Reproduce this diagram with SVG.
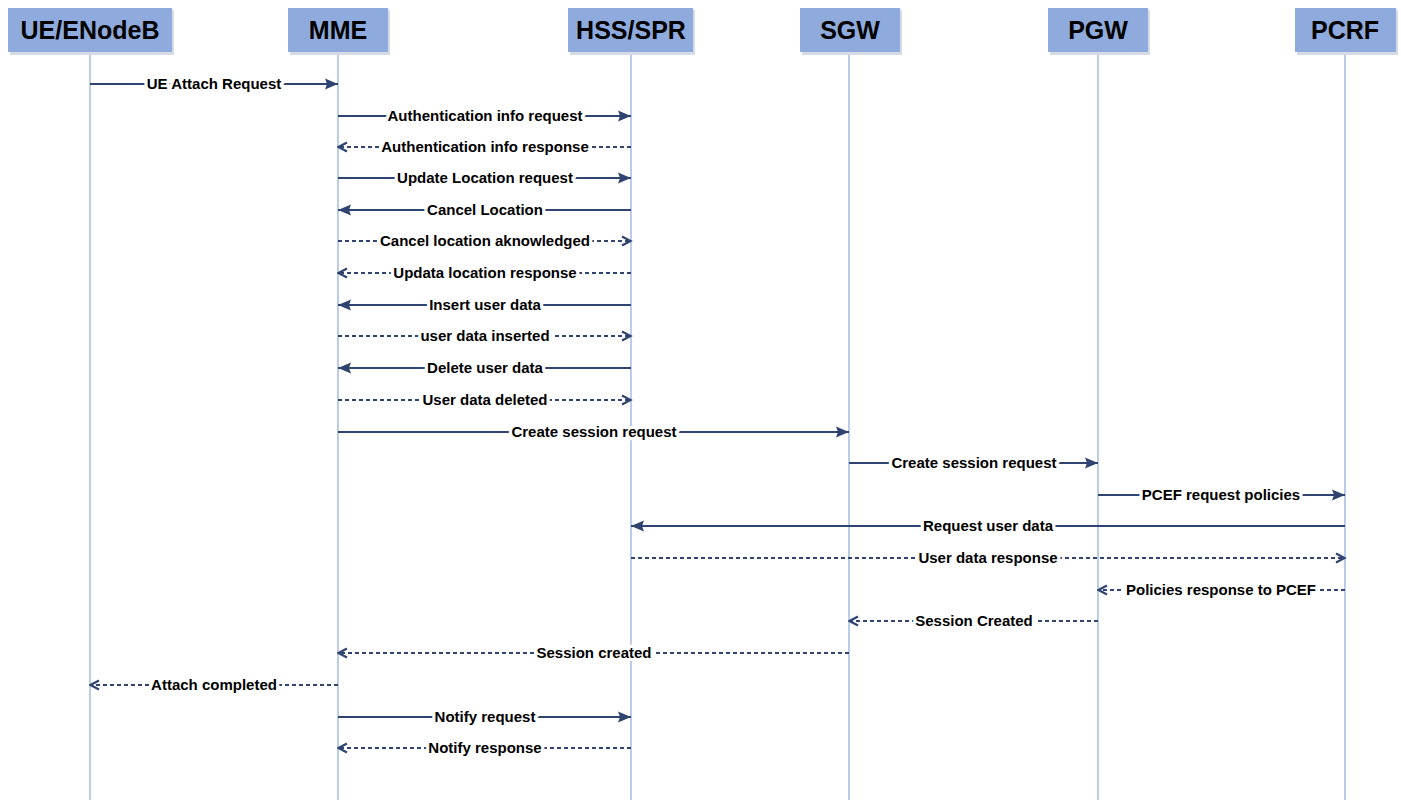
<svg xmlns="http://www.w3.org/2000/svg" width="1401" height="800" viewBox="0 0 1401 800">
<style>
.box{fill:#8FAADC;}
.shadow{fill:#D6DCE5;}
.hdr{font-family:"Liberation Sans",Arial,sans-serif;font-weight:bold;font-size:25px;fill:#000;text-anchor:middle;}
.life{stroke:#A9C0E4;stroke-width:1.6;fill:none;}
.msg{stroke:#2F4470;stroke-width:2.2;fill:none;}
.dash{stroke:#2F4470;stroke-width:2;stroke-dasharray:4 3;fill:none;}
.lbl{font-family:"Liberation Sans",Arial,sans-serif;font-weight:bold;font-size:15px;fill:#000;text-anchor:middle;paint-order:stroke;stroke:#fff;stroke-width:6.5;stroke-linejoin:round;}
</style>
<defs>
<marker id="solid" markerUnits="userSpaceOnUse" markerWidth="14" markerHeight="12" refX="13" refY="6" orient="auto">
<path d="M0,0.5 L13,6 L0,11.5 L2,6 z" fill="#2F4470"/>
</marker>
<marker id="open" markerUnits="userSpaceOnUse" markerWidth="12" markerHeight="12" refX="10.5" refY="6" orient="auto">
<path d="M1.5,1.5 L10,6 L1.5,10.5" fill="none" stroke="#2F4470" stroke-width="2.2"/>
</marker>
</defs>
<rect width="1401" height="800" fill="#fff"/>

<g id="lifelines">
<line class="life" x1="90" y1="52" x2="90" y2="800"/>
<line class="life" x1="338" y1="52" x2="338" y2="800"/>
<line class="life" x1="631" y1="52" x2="631" y2="800"/>
<line class="life" x1="849" y1="52" x2="849" y2="800"/>
<line class="life" x1="1098" y1="52" x2="1098" y2="800"/>
<line class="life" x1="1345" y1="52" x2="1345" y2="800"/>
</g>

<g id="node-ue">
<rect class="shadow" x="10" y="10" width="164" height="45"/>
<rect class="box" x="8" y="8" width="164" height="44"/>
<text class="hdr" x="90" y="39">UE/ENodeB</text>
</g>
<g id="node-mme">
<rect class="shadow" x="290" y="10" width="100" height="45"/>
<rect class="box" x="288" y="8" width="100" height="44"/>
<text class="hdr" x="338" y="39">MME</text>
</g>
<g id="node-hss">
<rect class="shadow" x="570" y="10" width="125" height="45"/>
<rect class="box" x="568" y="8" width="125" height="44"/>
<text class="hdr" x="631" y="39">HSS/SPR</text>
</g>
<g id="node-sgw">
<rect class="shadow" x="802" y="10" width="100" height="45"/>
<rect class="box" x="800" y="8" width="100" height="44"/>
<text class="hdr" x="850" y="39">SGW</text>
</g>
<g id="node-pgw">
<rect class="shadow" x="1050" y="10" width="100" height="45"/>
<rect class="box" x="1048" y="8" width="100" height="44"/>
<text class="hdr" x="1098" y="39">PGW</text>
</g>
<g id="node-pcrf">
<rect class="shadow" x="1297" y="10" width="101" height="45"/>
<rect class="box" x="1295" y="8" width="101" height="44"/>
<text class="hdr" x="1345" y="39">PCRF</text>
</g>

<g id="connectors">
<line class="msg" x1="90" y1="84" x2="338" y2="84" marker-end="url(#solid)"/>
<line class="msg" x1="338" y1="116" x2="631" y2="116" marker-end="url(#solid)"/>
<line class="dash" x1="631" y1="147" x2="338" y2="147" marker-end="url(#open)"/>
<line class="msg" x1="338" y1="178" x2="631" y2="178" marker-end="url(#solid)"/>
<line class="msg" x1="631" y1="210" x2="338" y2="210" marker-end="url(#solid)"/>
<line class="dash" x1="338" y1="241" x2="631" y2="241" marker-end="url(#open)"/>
<line class="dash" x1="631" y1="273" x2="338" y2="273" marker-end="url(#open)"/>
<line class="msg" x1="631" y1="305" x2="338" y2="305" marker-end="url(#solid)"/>
<line class="dash" x1="338" y1="336" x2="631" y2="336" marker-end="url(#open)"/>
<line class="msg" x1="631" y1="368" x2="338" y2="368" marker-end="url(#solid)"/>
<line class="dash" x1="338" y1="400" x2="631" y2="400" marker-end="url(#open)"/>
<line class="msg" x1="338" y1="432" x2="849" y2="432" marker-end="url(#solid)"/>
<line class="msg" x1="849" y1="463" x2="1098" y2="463" marker-end="url(#solid)"/>
<line class="msg" x1="1098" y1="495" x2="1345" y2="495" marker-end="url(#solid)"/>
<line class="msg" x1="1345" y1="526" x2="631" y2="526" marker-end="url(#solid)"/>
<line class="dash" x1="631" y1="558" x2="1345" y2="558" marker-end="url(#open)"/>
<line class="dash" x1="1345" y1="590" x2="1098" y2="590" marker-end="url(#open)"/>
<line class="dash" x1="1098" y1="621" x2="849" y2="621" marker-end="url(#open)"/>
<line class="dash" x1="849" y1="653" x2="338" y2="653" marker-end="url(#open)"/>
<line class="dash" x1="338" y1="685" x2="90" y2="685" marker-end="url(#open)"/>
<line class="msg" x1="338" y1="717" x2="631" y2="717" marker-end="url(#solid)"/>
<line class="dash" x1="631" y1="748" x2="338" y2="748" marker-end="url(#open)"/>
</g>

<g id="labels">
<text class="lbl" x="214" y="89">UE Attach Request</text>
<text class="lbl" x="485" y="121">Authentication info request</text>
<text class="lbl" x="485" y="152">Authentication info response</text>
<text class="lbl" x="485" y="183">Update Location request</text>
<text class="lbl" x="485" y="215">Cancel Location</text>
<text class="lbl" x="485" y="246">Cancel location aknowledged</text>
<text class="lbl" x="485" y="278">Updata location response</text>
<text class="lbl" x="485" y="310">Insert user data</text>
<text class="lbl" x="485" y="341">user data inserted</text>
<text class="lbl" x="485" y="373">Delete user data</text>
<text class="lbl" x="485" y="405">User data deleted</text>
<text class="lbl" x="594" y="437">Create session request</text>
<text class="lbl" x="974" y="468">Create session request</text>
<text class="lbl" x="1221" y="500">PCEF request policies</text>
<text class="lbl" x="988" y="531">Request user data</text>
<text class="lbl" x="988" y="563">User data response</text>
<text class="lbl" x="1221" y="595">Policies response to PCEF</text>
<text class="lbl" x="974" y="626">Session Created</text>
<text class="lbl" x="594" y="658">Session created</text>
<text class="lbl" x="214" y="690">Attach completed</text>
<text class="lbl" x="485" y="722">Notify request</text>
<text class="lbl" x="485" y="753">Notify response</text>
</g>
</svg>
